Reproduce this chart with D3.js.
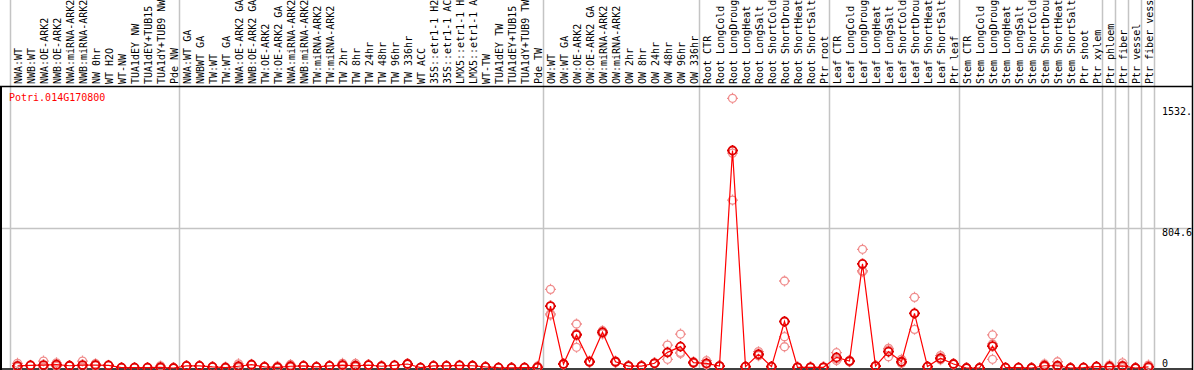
<!DOCTYPE html>
<html>
<head>
<meta charset="utf-8">
<script src="https://cdn.jsdelivr.net/npm/d3@7"></script>
<style>
  body { margin: 0; background: #fff; }
  svg { display: block; }
  text { font-family: "DejaVu Sans Mono", monospace; font-size: 10px; }
</style>
</head>
<body>
<div id="chart"></div>
<script>
// sample names, in the order they are plotted
var samples = [
    "NWA:WT", "NWB:WT", "NWA:OE-ARK2", "NWB:OE-ARK2", "NWA:miRNA-ARK2", "NWB:miRNA-ARK2", "NW 0hr", "WT H2O", "WT-NW",
    "TUA1dEY NW", "TUA1dEY+TUB15 NW", "TUA1dY+TUB9 NW", "Pde NW",
    "NWA:WT GA", "NWBWT GA", "TW:WT", "TW:WT GA", "NWA:OE-ARK2 GA", "NWB:OE-ARK2 GA", "TW:OE-ARK2", "TW:OE-ARK2 GA",
    "NWA:miRNA-ARK2", "NWB:miRNA-ARK2", "TW:miRNA-ARK2", "TW:miRNA-ARK2", "TW 2hr", "TW 8hr", "TW 24hr", "TW 48hr",
    "TW 96hr", "TW 336hr", "WT ACC", "35S::etr1-1 H2O", "35S::etr1-1 ACC", "LMX5::etr1-1 H2O", "LMX5::etr1-1 ACC",
    "WT-TW", "TUA1dEY TW", "TUA1dEY+TUB15 TW", "TUA1dY+TUB9 TW", "Pde TW",
    "OW:WT", "OW:WT GA", "OW:OE-ARK2", "OW:OE-ARK2 GA", "OW:miRNA-ARK2", "OW:miRNA-ARK2", "OW 2hr", "OW 8hr",
    "OW 24hr", "OW 48hr", "OW 96hr", "OW 336hr",
    "Root CTR", "Root LongCold", "Root LongDrought", "Root LongHeat", "Root LongSalt", "Root ShortCold",
    "Root ShortDrought", "Root ShortHeat", "Root ShortSalt", "Ptr root",
    "Leaf CTR", "Leaf LongCold", "Leaf LongDrought", "Leaf LongHeat", "Leaf LongSalt", "Leaf ShortCold",
    "Leaf ShortDrought", "Leaf ShortHeat", "Leaf ShortSalt", "Ptr leaf",
    "Stem CTR", "Stem LongCold", "Stem LongDrought", "Stem LongHeat", "Stem LongSalt", "Stem ShortCold",
    "Stem ShortDrought", "Stem ShortHeat", "Stem ShortSalt", "Ptr shoot", "Ptr xylem",
    "Ptr phloem", "Ptr fiber", "Ptr vessel", "Ptr fiber vessel"
];

// how many samples sit in each experiment block (separated by grey lines)
var groupSizes = [13, 28, 12, 10, 10, 11, 1, 1, 1, 1];

// three replicates per sample
var rep1 = [27, 16, 40, 30, 14, 40, 25, 16, 3, 2, 2, 12, 0,
    14, 13, 8, 6, 24, 22, 8, 10, 20, 13, 7, 13, 27, 26, 19, 11, 16, 26, 3, 13, 13, 16, 14, 7, 3, 1, 3, 10,
    452, 26, 253, 40, 214, 40, 13, 13, 30, 132, 195, 36,
    42, 12, 1550, 9, 94, 9, 500, 5, 5, 5,
    88, 44, 682, 12, 113, 50, 406, 9, 71, 26,
    0, 0, 190, 3, 3, 0, 23, 36, 0, 3, 9,
    17, 30, 0, 17];
var rep2 = [5, 15, 6, 17, 13, 6, 14, 15, 2, 2, 2, 0, 0,
    11, 12, 5, 0, 4, 18, 5, 1, 6, 12, 6, 12, 13, 8, 16, 10, 15, 22, 2, 12, 12, 15, 13, 6, 2, 1, 2, 1,
    305, 22, 198, 35, 205, 36, 10, 10, 27, 88, 90, 30,
    20, 11, 1235, 8, 72, 8, 180, 4, 4, 4,
    52, 40, 559, 11, 104, 30, 314, 8, 50, 22,
    0, 0, 138, 2, 2, 0, 10, 2, 0, 2, 8,
    4, 4, 0, 1];
var rep3 = [4, 14, 5, 10, 12, 5, 12, 14, 1, 2, 2, 0, 0,
    11, 11, 5, 0, 2, 17, 5, 1, 4, 11, 5, 11, 11, 5, 16, 9, 14, 21, 1, 11, 11, 14, 12, 5, 1, 1, 1, 1,
    311, 21, 119, 33, 196, 32, 10, 10, 24, 50, 84, 27,
    19, 10, 965, 7, 71, 7, 122, 3, 3, 3,
    43, 36, 553, 10, 65, 28, 222, 7, 47, 21,
    0, 0, 50, 1, 1, 0, 6, 1, 0, 1, 7,
    3, 2, 0, 0];

var geneName = "Potri.014G170800";
var yMax = 1609.2;
var yTicks = [{ v: 1532, label: "1532." }, { v: 804.6, label: "804.6" }, { v: 0, label: "0" }];

var width = 1194, height = 370;
var plotTop = 86, plotBottom = 368, plotLeft = 1, plotRight = 1192;

var data = samples.map(function (s, i) {
    var reps = [rep1[i], rep2[i], rep3[i]];
    return { name: s, i: i, reps: reps, mean: d3.mean(reps) };
});

var x = d3.scaleBand().domain(d3.range(samples.length)).range([11, 11 + 13 * samples.length]);
var y = d3.scaleLinear().domain([0, yMax]).range([plotBottom, plotTop + 2]);

var svg = d3.select("#chart").append("svg")
    .attr("width", width)
    .attr("height", height);

// grey block separators, running through the label area too
var edges = [0];
groupSizes.forEach(function (n) { edges.push(edges[edges.length - 1] + n); });
var edgeX = function (d) { return d < samples.length ? x(d) - 0.5 : x(d - 1) + x.bandwidth() - 0.5; };
svg.append("g").selectAll("line")
    .data(edges)
    .enter().append("line")
    .attr("x1", edgeX)
    .attr("x2", edgeX)
    .attr("y1", 0)
    .attr("y2", plotBottom)
    .attr("stroke", "#c4c4c4")
    .attr("stroke-width", 1.5);

// middle gridline
svg.append("line")
    .attr("x1", plotLeft).attr("x2", plotRight)
    .attr("y1", Math.round(y(804.6)) + 0.5).attr("y2", Math.round(y(804.6)) + 0.5)
    .attr("stroke", "#c4c4c4")
    .attr("stroke-width", 1.5);

// frame
svg.append("line").attr("x1", 0).attr("x2", plotRight).attr("y1", plotTop + 0.5).attr("y2", plotTop + 0.5)
    .attr("stroke", "#000").attr("stroke-width", 1.5);
svg.append("line").attr("x1", plotLeft).attr("x2", plotLeft).attr("y1", plotTop).attr("y2", height)
    .attr("stroke", "#000").attr("stroke-width", 2);
svg.append("line").attr("x1", plotRight + 0.5).attr("x2", plotRight + 0.5).attr("y1", 0).attr("y2", height)
    .attr("stroke", "#000").attr("stroke-width", 1.5);
svg.append("line").attr("x1", 0).attr("x2", plotRight).attr("y1", plotBottom + 1).attr("y2", plotBottom + 1)
    .attr("stroke", "#000").attr("stroke-width", 1.5);

// rotated sample labels
svg.append("g").selectAll("text")
    .data(data)
    .enter().append("text")
    .attr("transform", function (d) {
        return "translate(" + (x(d.i) + x.bandwidth() / 2 + 4) + "," + (plotTop - 2) + ") rotate(-90)";
    })
    .attr("fill", "#000")
    .text(function (d) { return d.name; });

// gene name
svg.append("text")
    .attr("x", 9)
    .attr("y", 101)
    .attr("fill", "#ff0000")
    .text(geneName);

// value labels on the right
svg.append("g").selectAll("text")
    .data(yTicks)
    .enter().append("text")
    .attr("x", 1162)
    .attr("y", function (d) {
        if (d.v === 0) return y(0) - 1;
        if (d.v === 1532) return y(d.v) + 14;
        return y(d.v) + 8;
    })
    .attr("fill", "#000")
    .text(function (d) { return d.label; });

// marker: circle with small ticks at the four sides
function marker(r) {
    var p = d3.path();
    p.moveTo(r, 0);
    p.arc(0, 0, r, 0, 2 * Math.PI);
    p.moveTo(0, -r - 1.5); p.lineTo(0, -r);
    p.moveTo(0, r); p.lineTo(0, r + 1.5);
    p.moveTo(-r - 1.5, 0); p.lineTo(-r, 0);
    p.moveTo(r, 0); p.lineTo(r + 1.5, 0);
    return p.toString();
}

var cx = function (d) { return x(d.i) + x.bandwidth() / 2; };

// replicate points
var repPoints = [];
data.forEach(function (d) {
    d.reps.forEach(function (v) { repPoints.push({ i: d.i, v: v }); });
});
svg.append("g").selectAll("path")
    .data(repPoints)
    .enter().append("path")
    .attr("d", marker(4))
    .attr("transform", function (d) { return "translate(" + cx(d) + "," + y(d.v) + ")"; })
    .attr("fill", "none")
    .attr("stroke", "#f08c8c")
    .attr("stroke-width", 1.3);

// mean line
var line = d3.line()
    .x(cx)
    .y(function (d) { return y(d.mean); });
svg.append("path")
    .datum(data)
    .attr("d", line)
    .attr("fill", "none")
    .attr("stroke", "#ff0000")
    .attr("stroke-width", 1.2);

// mean points
svg.append("g").selectAll("path")
    .data(data)
    .enter().append("path")
    .attr("d", marker(4))
    .attr("transform", function (d) { return "translate(" + cx(d) + "," + y(d.mean) + ")"; })
    .attr("fill", "none")
    .attr("stroke", "#e00000")
    .attr("stroke-width", 1.8);
</script>
</body>
</html>
